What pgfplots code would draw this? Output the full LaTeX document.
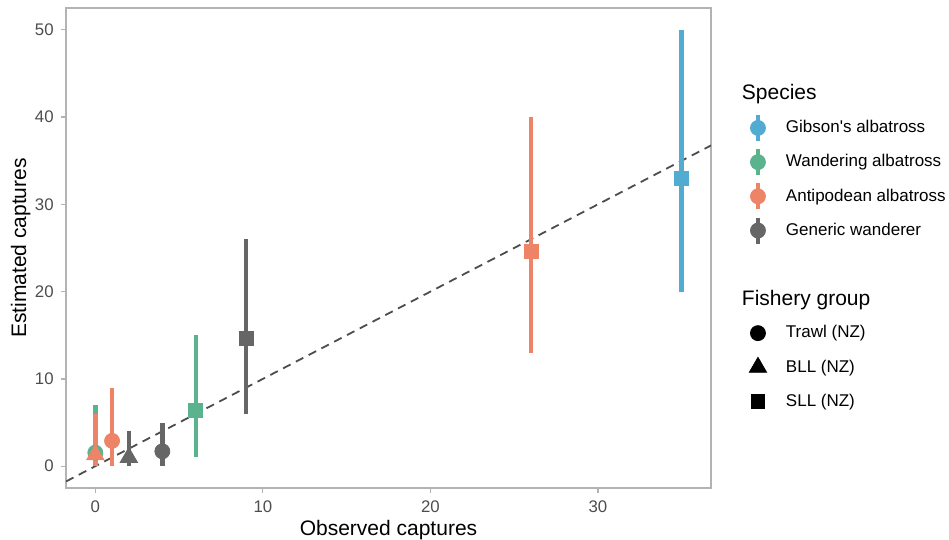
\documentclass[border=0pt]{standalone}
\usepackage{fontspec}
\setmainfont{Liberation Sans}[Ligatures=TeXOff]
\usepackage{pgfplots}
\pgfplotsset{compat=1.18}
\definecolor{cGib}{HTML}{52ABD1}
\definecolor{cWan}{HTML}{5BB38E}
\definecolor{cAnt}{HTML}{EE8467}
\definecolor{cGen}{HTML}{666666}
\definecolor{axgray}{HTML}{B3B3B3}
\definecolor{tickgray}{HTML}{4D4D4D}
\pgfplotsset{
  specleg/.style={legend image code/.code={
    \path[draw=none,fill=none] (0pt,-8pt) rectangle (16pt,8pt);
    \draw[line width=2.3pt] (8pt,-6.5pt) -- (8pt,6.5pt);
    \fill (8pt,0pt) circle (3.75pt);}},
  bar/.style={line width=2.3pt, forget plot, mark=none},
  pt/.style={only marks, forget plot, mark options={draw=none}},
}
\begin{document}
\begin{tikzpicture}[x=1pt,y=1pt]
\useasboundingbox (0,0) rectangle (474.5,270);
\begin{axis}[
  at={(33pt,26pt)}, anchor=south west, scale only axis,
  width=322.5pt, height=240pt,
  xmin=-1.75, xmax=36.75, ymin=-2.5, ymax=52.5,
  xtick={0,10,20,30}, ytick={0,10,20,30,40,50},
  axis line style={axgray, line width=0.6pt},
  tick style={axgray, line width=0.6pt},
  tick align=outside, major tick length=2.5pt, tick pos=left,
  /pgf/number format/assume math mode=true,
  ticklabel style={font=\fontsize{8.4}{10}\selectfont, text=tickgray, inner sep=0pt},
  xticklabel style={anchor=north, yshift=-3.5pt},
  yticklabel style={anchor=east, xshift=-3.5pt},
  xlabel={Observed captures}, ylabel={Estimated captures},
  label style={font=\fontsize{10.5}{12}\selectfont, text=black},
  xlabel style={at={(axis description cs:0.5,-0.098)}, anchor=base},
  ylabel style={at={(axis description cs:-0.062,0.5)}, anchor=base},
  legend cell align=left,
  legend style={at={(axis description cs:1.048,0.857)}, anchor=north west,
    draw=none, fill=none, inner sep=0pt, outer sep=0pt, row sep=0pt,
    /tikz/column sep=6pt,
    nodes={inner sep=0pt, minimum height=17.1pt, font=\fontsize{8.5}{10}\selectfont, text=black}},
]
% reference line y = x
\addplot[forget plot, tickgray, line width=0.9pt, dash pattern=on 4.2pt off 3pt] coordinates {(-1.75,-1.75) (36.75,36.75)};
% ranges
\addplot[bar, cGib] coordinates {(35,20) (35,50)};
\addplot[bar, cWan] coordinates {(6,1) (6,15)};
\addplot[bar, cWan] coordinates {(0,0) (0,7)};
\addplot[bar, cAnt] coordinates {(26,13) (26,40)};
\addplot[bar, cAnt] coordinates {(1,0) (1,9)};
\addplot[bar, cAnt] coordinates {(0,0) (0,6)};
\addplot[bar, cGen] coordinates {(9,6) (9,26)};
\addplot[bar, cGen] coordinates {(4,0) (4,5)};
\addplot[bar, cGen] coordinates {(2,0) (2,4)};
% points
\addplot[pt, cGib, mark=square*, mark size=3.5pt] coordinates {(35,33)};
\addplot[pt, cWan, mark=square*, mark size=3.5pt] coordinates {(6,6.4)};
\addplot[pt, cWan, mark=*, mark size=3.75pt] coordinates {(0,1.55)};
\addplot[pt, cAnt, mark=square*, mark size=3.5pt] coordinates {(26,24.6)};
\addplot[pt, cAnt, mark=*, mark size=3.75pt] coordinates {(1,2.9)};
\addplot[pt, cAnt, mark=triangle*, mark size=5pt] coordinates {(0,1.3)};
\addplot[pt, cGen, mark=square*, mark size=3.5pt] coordinates {(9,14.6)};
\addplot[pt, cGen, mark=*, mark size=3.75pt] coordinates {(4,1.7)};
\addplot[pt, cGen, mark=triangle*, mark size=5pt] coordinates {(2,1.0)};
% legend
\addlegendimage{empty legend}
\addlegendentry{\fontsize{10.5}{12}\selectfont\hspace*{-22pt}Species}
\addlegendimage{cGib, specleg}
\addlegendentry{Gibson's albatross}
\addlegendimage{cWan, specleg}
\addlegendentry{Wandering albatross}
\addlegendimage{cAnt, specleg}
\addlegendentry{Antipodean albatross}
\addlegendimage{cGen, specleg}
\addlegendentry{Generic wanderer}
\addlegendimage{empty legend}
\addlegendentry{\mbox{}}
\addlegendimage{empty legend}
\addlegendentry{\fontsize{10.5}{12}\selectfont\hspace*{-22pt}Fishery group}
\addlegendimage{black, legend image code/.code={\path[draw=none,fill=none] (0pt,-8pt) rectangle (16pt,8pt); \fill (8pt,0pt) circle (3.75pt);}}
\addlegendentry{Trawl (NZ)}
\addlegendimage{black, legend image code/.code={\path[draw=none,fill=none] (0pt,-8pt) rectangle (16pt,8pt); \fill (8pt,5pt) -- (12.33pt,-2.5pt) -- (3.67pt,-2.5pt) -- cycle;}}
\addlegendentry{BLL (NZ)}
\addlegendimage{black, legend image code/.code={\path[draw=none,fill=none] (0pt,-8pt) rectangle (16pt,8pt); \fill (4.6pt,-3.4pt) rectangle (11.4pt,3.4pt);}}
\addlegendentry{SLL (NZ)}
\end{axis}
\end{tikzpicture}
\end{document}
